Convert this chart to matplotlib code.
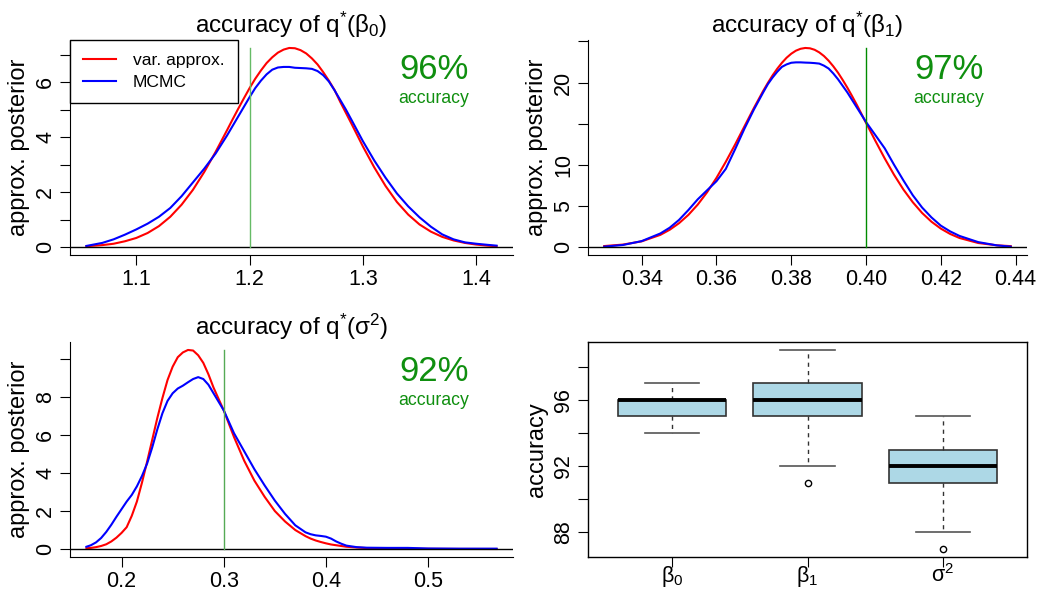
import matplotlib
matplotlib.use('Agg')
import matplotlib.pyplot as plt

plt.rcParams['font.family'] = ['Liberation Sans', 'DejaVu Sans']
plt.rcParams['mathtext.fontset'] = 'custom'
plt.rcParams['mathtext.rm'] = 'Liberation Sans'
plt.rcParams['mathtext.it'] = 'Liberation Sans:italic'
plt.rcParams['mathtext.bf'] = 'Liberation Sans:bold'

#####
# densities

# q*(beta0)
b0_x = [1.056, 1.07, 1.08, 1.09, 1.10, 1.11, 1.12, 1.13, 1.14, 1.15, 1.16, 1.17, 1.18,
        1.185, 1.19, 1.195, 1.20, 1.205, 1.21, 1.215, 1.22, 1.225, 1.23, 1.235, 1.24,
        1.245, 1.25, 1.255, 1.26, 1.265, 1.27, 1.275, 1.28, 1.285, 1.29,
        1.30, 1.31, 1.32, 1.33, 1.34, 1.35, 1.36, 1.37, 1.38, 1.39, 1.40, 1.41, 1.418]
b0_var = [0.03, 0.07, 0.12, 0.21, 0.33, 0.51, 0.76, 1.10, 1.54, 2.08, 2.73, 3.46, 4.24,
          4.64, 5.03, 5.41, 5.78, 6.12, 6.42, 6.69, 6.90, 7.07, 7.18, 7.24, 7.23,
          7.16, 7.04, 6.86, 6.64, 6.36, 6.05, 5.71, 5.28, 4.88, 4.48,
          3.66, 2.90, 2.22, 1.64, 1.18, 0.82, 0.56, 0.37, 0.24, 0.15, 0.09, 0.05, 0.03]
b0_mcmc = [0.04, 0.15, 0.28, 0.45, 0.64, 0.85, 1.10, 1.42, 1.85, 2.35, 2.85, 3.40, 4.05,
           4.40, 4.75, 5.10, 5.45, 5.78, 6.05, 6.28, 6.45, 6.53, 6.55, 6.55, 6.52,
           6.51, 6.50, 6.48, 6.40, 6.25, 6.02, 5.70, 5.35, 5.00, 4.62,
           3.85, 3.15, 2.52, 1.95, 1.48, 1.08, 0.74, 0.46, 0.28, 0.17, 0.12, 0.08, 0.05]

# q*(beta1)
b1_x = [0.330, 0.335, 0.340, 0.345, 0.3475, 0.350, 0.3525, 0.355, 0.3575, 0.360,
        0.3625, 0.365, 0.3675, 0.370, 0.3725,
        0.37375, 0.375, 0.37625, 0.3775, 0.37875, 0.380, 0.38125, 0.3825, 0.38375,
        0.385, 0.38625, 0.3875, 0.38875, 0.390, 0.39125, 0.3925, 0.39375, 0.395,
        0.39625, 0.3975,
        0.400, 0.4025, 0.405, 0.4075, 0.410, 0.4125, 0.415, 0.4175, 0.420, 0.4225,
        0.425, 0.430, 0.435, 0.4387]
b1_var = [0.12, 0.30, 0.69, 1.48, 2.10, 2.90, 3.91, 5.16, 6.66, 8.40,
          10.36, 12.47, 14.68, 16.89, 18.98,
          19.95, 20.86, 21.67, 22.39, 23.01, 23.50, 23.87, 24.10, 24.20,
          24.16, 23.98, 23.66, 23.22, 22.65, 21.97, 21.20, 20.32, 19.38,
          18.37, 17.32,
          15.10, 12.91, 10.77, 8.78, 6.99, 5.45, 4.14, 3.08, 2.24, 1.59,
          1.10, 0.49, 0.21, 0.11]
b1_mcmc = [0.05, 0.25, 0.72, 1.65, 2.35, 3.30, 4.50, 5.80, 6.90, 8.00,
           9.50, 11.90, 14.40, 16.70, 18.80,
           19.80, 20.60, 21.30, 21.90, 22.20, 22.40, 22.45, 22.45, 22.42,
           22.40, 22.36, 22.30, 22.05, 21.70, 21.10, 20.40, 19.60, 18.80,
           17.90, 17.00,
           15.20, 13.60, 12.00, 10.00, 8.10, 6.30, 4.80, 3.60, 2.60, 1.90,
           1.35, 0.60, 0.20, 0.05]

# q*(sigma^2)
s2_x = [0.1656, 0.17, 0.175, 0.18, 0.185, 0.19, 0.195, 0.20, 0.205, 0.21, 0.215,
        0.22, 0.225, 0.23, 0.235, 0.24, 0.245, 0.25, 0.255, 0.26, 0.265, 0.27,
        0.275, 0.28, 0.285, 0.29,
        0.30, 0.31, 0.32, 0.33, 0.34, 0.35, 0.36, 0.37, 0.38,
        0.385, 0.39, 0.395, 0.40, 0.405, 0.41, 0.415, 0.42,
        0.43, 0.44, 0.46, 0.48, 0.50, 0.53, 0.567]
s2_var = [0.04, 0.06, 0.10, 0.16, 0.25, 0.40, 0.60, 0.85, 1.15, 1.75, 2.50,
          3.50, 4.60, 5.75, 6.90, 7.95, 8.90, 9.60, 10.10, 10.35, 10.48, 10.45,
          10.20, 9.80, 9.20, 8.50,
          7.30, 5.90, 4.65, 3.60, 2.75, 2.00, 1.45, 1.00, 0.68,
          0.55, 0.45, 0.37, 0.30, 0.24, 0.20, 0.16, 0.12,
          0.08, 0.05, 0.03, 0.015, 0.01, 0.005, 0.002]
s2_mcmc = [0.12, 0.20, 0.35, 0.58, 0.90, 1.28, 1.70, 2.10, 2.50, 2.85, 3.30,
           3.85, 4.50, 5.35, 6.30, 7.15, 7.80, 8.20, 8.45, 8.60, 8.78, 8.95,
           9.05, 8.95, 8.65, 8.20,
           7.30, 6.10, 5.15, 4.20, 3.35, 2.55, 1.85, 1.25, 0.88,
           0.78, 0.72, 0.69, 0.65, 0.55, 0.40, 0.28, 0.18,
           0.10, 0.07, 0.06, 0.06, 0.03, 0.02, 0.02]

true_vals = [1.2, 0.4, 0.3]
accuracy = ['96%', '97%', '92%']

# accuracy boxplot over replications
box_labels = [r'$\mathrm{\beta_0}$', r'$\mathrm{\beta_1}$', r'$\mathrm{\sigma^2}$']
box_whislo = [94, 92, 88]
box_q1 = [95, 95, 91]
box_med = [96, 96, 92]
box_q3 = [96, 97, 93]
box_whishi = [97, 99, 95]
box_fliers = [[], [91], [87]]

W, H = 1049, 592
fig = plt.figure(figsize=(W / 100, H / 100), dpi=100)


def axes_px(l, t, r, b):
    return fig.add_axes([l / W, 1 - b / H, (r - l) / W, (b - t) / H])


def r_range(lo, hi):
    d = 0.04 * (hi - lo)
    return lo - d, hi + d


GREEN = '#0f8f0f'


def density_panel(ax, x, yv, ym, truth, acc, title, yticks, ylabels, xticks,
                  xlabels, vcol):
    ax.plot(x, yv, color='red', lw=1.5)
    ax.plot(x, ym, color='blue', lw=1.5)
    top = max(max(yv), max(ym))
    ax.set_xlim(*r_range(min(x), max(x)))
    ax.set_ylim(*r_range(0, top))
    ax.axhline(0, color='black', lw=1)
    ax.plot([truth, truth], [0, top], color=vcol, lw=1)
    ax.spines['top'].set_visible(False)
    ax.spines['right'].set_visible(False)
    ax.set_yticks(yticks)
    ax.set_yticklabels(ylabels, rotation=90, va='center')
    ax.set_xticks(xticks)
    ax.set_xticklabels(xlabels)
    ax.tick_params(labelsize=15.5, length=7, pad=3)
    ax.set_ylabel('approx. posterior', fontsize=17, labelpad=4)
    ax.set_title(title, fontsize=17.5, pad=1.5)
    ax.text(0.822, 0.865, acc, transform=ax.transAxes, color=GREEN,
            fontsize=25, ha='center', va='center')
    ax.text(0.822, 0.73, 'accuracy', transform=ax.transAxes, color=GREEN,
            fontsize=12.7, ha='center', va='center')


ax1 = axes_px(70, 40, 513, 255)
density_panel(ax1, b0_x, b0_var, b0_mcmc, true_vals[0], accuracy[0],
              r'accuracy of $\mathrm{q}^{\!*}\!(\mathrm{\beta_0})$',
              [0, 1, 2, 3, 4, 5, 6, 7], ['0', '', '2', '', '4', '', '6', ''],
              [1.1, 1.2, 1.3, 1.4], ['1.1', '1.2', '1.3', '1.4'], '#66bb66')
ax1.legend(['var. approx.', 'MCMC'], loc='upper left', fontsize=12.6,
           frameon=True, fancybox=False, edgecolor='black', framealpha=1,
           borderaxespad=0, borderpad=0.75, handlelength=1.9, handletextpad=0.95,
           labelspacing=0.35)
ax1.get_legend().get_frame().set_linewidth(1)

ax2 = axes_px(588, 40, 1027, 255)
density_panel(ax2, b1_x, b1_var, b1_mcmc, true_vals[1], accuracy[1],
              r'accuracy of $\mathrm{q}^{\!*}\!(\mathrm{\beta_1})$',
              [0, 5, 10, 15, 20, 25], ['0', '5', '10', '', '20', ''],
              [0.34, 0.36, 0.38, 0.40, 0.42, 0.44],
              ['0.34', '0.36', '0.38', '0.40', '0.42', '0.44'], '#008b00')

ax3 = axes_px(70, 342, 513, 557)
density_panel(ax3, s2_x, s2_var, s2_mcmc, true_vals[2], accuracy[2],
              r'accuracy of $\mathrm{q}^{\!*}\!(\mathrm{\sigma^2})$',
              [0, 2, 4, 6, 8, 10], ['0', '2', '4', '6', '8', ''],
              [0.2, 0.3, 0.4, 0.5], ['0.2', '0.3', '0.4', '0.5'], '#55aa55')

ax4 = axes_px(588, 342, 1027, 557)
stats = []
for i in range(len(box_labels)):
    stats.append({'whislo': box_whislo[i], 'q1': box_q1[i], 'med': box_med[i],
                  'q3': box_q3[i], 'whishi': box_whishi[i],
                  'fliers': box_fliers[i]})
ax4.bxp(stats, positions=[1, 2, 3], widths=0.8, patch_artist=True,
        boxprops=dict(facecolor='#add8e6', edgecolor='#333333', lw=1.2),
        medianprops=dict(color='black', lw=2.8),
        whiskerprops=dict(color='#333333', lw=1, linestyle=(0, (3, 3))),
        capprops=dict(color='#555555', lw=1.2), capwidths=0.4,
        flierprops=dict(marker='o', markersize=4.5, markerfacecolor='none',
                        markeredgecolor='black', markeredgewidth=1))
all_vals = box_whislo + box_whishi + [v for f in box_fliers for v in f]
ax4.set_ylim(*r_range(min(all_vals), max(all_vals)))
ax4.set_xlim(*r_range(0.5, 3.5))
ax4.set_yticks([88, 90, 92, 94, 96, 98])
ax4.set_yticklabels(['88', '', '92', '', '96', ''], rotation=90, va='center')
ax4.set_xticks([1, 2, 3])
ax4.set_xticklabels(box_labels)
ax4.tick_params(labelsize=15.5, length=7, pad=3)
ax4.tick_params(axis='x', pad=-2)
ax4.set_ylabel('accuracy', fontsize=17, labelpad=4)
for s in ax4.spines.values():
    s.set_linewidth(1)

fig.savefig('out.png', dpi=100)
plt.close(fig)
